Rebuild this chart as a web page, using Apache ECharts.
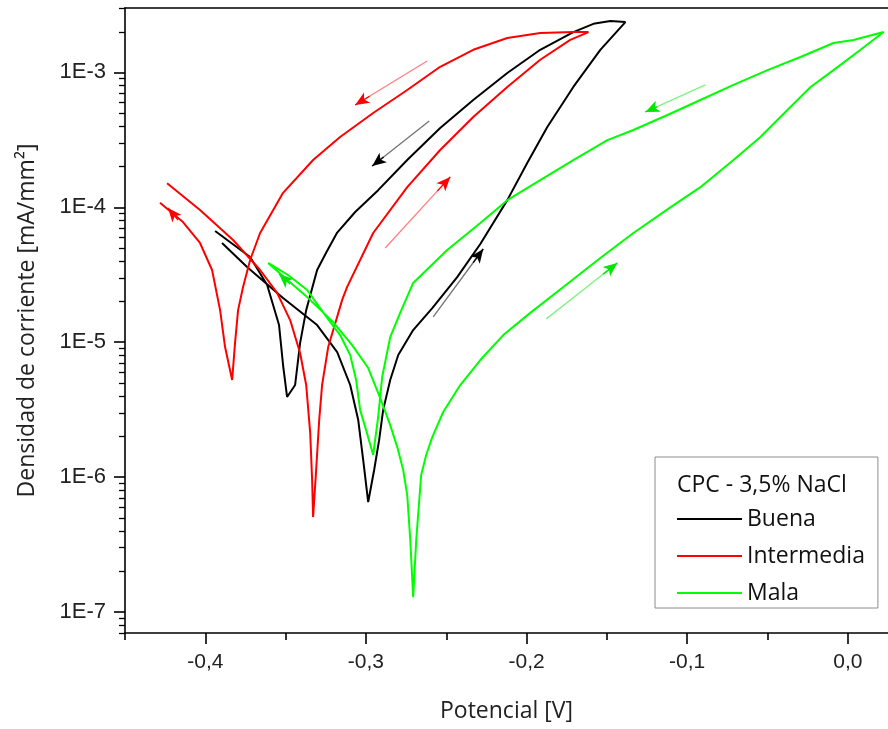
<!DOCTYPE html>
<html><head><meta charset="utf-8">
<script src="https://cdn.jsdelivr.net/npm/echarts@6/dist/echarts.min.js"></script>
<style>html,body{margin:0;padding:0;background:#fff}#c{width:888px;height:729px}</style>
</head><body><div id="c"></div>
<script>
// ---- data: [potential V, current density mA/mm2] ----
const buena = [
[-0.3896,5.44e-5],[-0.374,3.61e-5],[-0.3516,2.13e-5],[-0.3304,1.34e-5],[-0.3179,8.46e-6],
[-0.3098,4.82e-6],[-0.3048,2.65e-6],[-0.3017,1.34e-6],[-0.2986,6.54e-7],[-0.2949,1.13e-6],
[-0.2918,1.88e-6],[-0.2893,3.14e-6],[-0.2849,5.25e-6],[-0.2799,8.04e-6],[-0.2706,1.23e-5],
[-0.2587,1.79e-5],[-0.2432,3.04e-5],[-0.2288,5.35e-5],[-0.212,1.13e-4],[-0.1996,2.13e-4],
[-0.1871,3.94e-4],[-0.1709,7.8e-4],[-0.1541,1.47e-3],[-0.1385,2.36e-3],[-0.1478,2.40e-3],
[-0.1584,2.29e-3],[-0.1709,1.99e-3],[-0.1915,1.47e-3],[-0.212,9.9e-4],[-0.2332,6.24e-4],
[-0.2538,3.87e-4],[-0.2743,2.24e-4],[-0.2924,1.34e-4],[-0.3067,9.23e-5],[-0.3179,6.5e-5],
[-0.3248,4.6e-5],[-0.3304,3.43e-5],[-0.3372,1.73e-5],[-0.341,9.86e-6],[-0.3441,4.82e-6],[-0.3491,3.93e-6],
[-0.3516,6.78e-6],[-0.3541,1.34e-5],[-0.3615,2.66e-5],[-0.3721,4.28e-5],[-0.3939,6.67e-5]
];
const intermedia = [
[-0.4238,1.51e-4],[-0.4033,9.55e-5],[-0.3827,5.72e-5],[-0.3659,3.43e-5],[-0.3553,2.32e-5],
[-0.3472,1.46e-5],[-0.341,8.32e-6],[-0.3372,4.82e-6],[-0.3347,2.12e-6],[-0.3335,9.52e-7],
[-0.3329,5.06e-7],[-0.331,1.13e-6],[-0.3291,2.65e-6],[-0.3273,4.82e-6],[-0.3235,9.21e-6],
[-0.3148,2.06e-5],[-0.3117,2.57e-5],[-0.2955,6.45e-5],[-0.2743,1.41e-4],[-0.2538,2.66e-4],
[-0.2332,4.67e-4],[-0.212,7.8e-4],[-0.1915,1.24e-3],[-0.1728,1.74e-3],[-0.1615,1.99e-3],
[-0.1709,1.99e-3],[-0.1915,1.96e-3],[-0.212,1.80e-3],[-0.2332,1.47e-3],[-0.2538,1.10e-3],
[-0.2743,7.4e-4],[-0.2955,5.0e-4],[-0.3161,3.32e-4],[-0.3329,2.24e-4],[-0.3516,1.28e-4],
[-0.3659,6.45e-5],[-0.3721,4.07e-5],[-0.3765,2.57e-5],[-0.3796,1.73e-5],[-0.3815,9.86e-6],
[-0.3833,5.25e-6],[-0.3877,9.21e-6],[-0.3908,1.73e-5],[-0.3958,3.43e-5],[-0.4033,5.44e-5],
[-0.4139,7.78e-5],[-0.4282,1.08e-4]
];
const mala = [
[-0.3609,3.87e-5],[-0.3503,2.99e-5],[-0.3366,2.16e-5],[-0.3204,1.41e-5],[-0.3086,9.53e-6],
[-0.2986,6.44e-6],[-0.2911,3.86e-6],[-0.2849,2.43e-6],[-0.2805,1.67e-6],[-0.2768,1.13e-6],
[-0.2743,7.37e-7],[-0.2724,3.42e-7],[-0.2706,1.29e-7],[-0.2687,3.42e-7],[-0.2656,1.04e-6],
[-0.2625,1.46e-6],[-0.2587,1.98e-6],[-0.2519,3.04e-6],[-0.2413,4.82e-6],[-0.2288,7.38e-6],
[-0.2145,1.13e-5],[-0.1977,1.65e-5],[-0.1771,2.57e-5],[-0.1541,4.21e-5],[-0.1335,6.45e-5],
[-0.1105,1.0e-4],[-0.0918,1.41e-4],[-0.0712,2.24e-4],[-0.0544,3.32e-4],[-0.0376,5.26e-4],
[-0.0232,7.8e-4],[-0.0089,1.04e-3],[0.0079,1.47e-3],[0.0223,1.99e-3],[0.0035,1.74e-3],
[-0.0089,1.65e-3],[-0.0295,1.30e-3],[-0.05,1.04e-3],[-0.0712,8.07e-4],[-0.0918,6.24e-4],
[-0.1123,4.83e-4],[-0.1335,3.74e-4],[-0.1497,3.15e-4],[-0.1709,2.24e-4],[-0.1915,1.59e-4],
[-0.212,1.13e-4],[-0.2288,7.65e-5],[-0.2494,4.83e-5],[-0.2706,2.75e-5],[-0.2787,1.65e-5],
[-0.2849,1.09e-5],[-0.2899,5.52e-6],[-0.2924,2.79e-6],[-0.2955,1.46e-6],[-0.2999,2.24e-6],
[-0.3036,3.14e-6],[-0.3061,5.25e-6],[-0.3098,8.04e-6],[-0.3161,1.13e-5],[-0.3254,1.59e-5],
[-0.3366,2.44e-5],[-0.3485,3.15e-5],[-0.3609,3.87e-5]
];
// scan-direction arrows: [from, to]
const arrowsBuena = [[[-0.2606,4.36e-4],[-0.2961,2.02e-4]],[[-0.2581,1.54e-5],[-0.227,4.91e-5]]];
const arrowsIntermedia = [[[-0.2619,1.215e-3],[-0.3067,5.73e-4]],[[-0.288,4.99e-5],[-0.2475,1.68e-4]]];
const arrowsMala = [[[-0.0887,8.07e-4],[-0.126,5.09e-4]],[[-0.1877,1.49e-5],[-0.1435,3.87e-5]]];
const headsIntermedia = [[[-0.417,8.05e-5],[-0.4232,9.88e-5]]];
const headsMala = [[[-0.3472,2.70e-5],[-0.3541,3.20e-5]]];

const seriesNames = ['Buena','Intermedia','Mala'];
const xTickValues = [-0.4,-0.3,-0.2,-0.1,0.0];
const xTickLabels = ['-0,4','-0,3','-0,2','-0,1','0,0'];
const xMinorValues = [-0.45,-0.35,-0.25,-0.15,-0.05];
const yTickValues = [1e-7,1e-6,1e-5,1e-4,1e-3];
const yTickLabels = ['1E-7','1E-6','1E-5','1E-4','1E-3'];
const xMin = -0.45, xMax = 0.025, yMin = 7e-8, yMax = 3e-3;

const yMinorValues = [];
for (let e = -8; e <= -3; e++) for (let m = 2; m <= 9; m++) {
  const v = Number((m * Math.pow(10, e)).toPrecision(3));
  if (v >= yMin && v <= yMax * 1.0001) yMinorValues.push(v);
}
// tick decoration axes live in log10 space, aligned with the log data axis
const lg = v => Math.log10(v);
const yMajorExp = yTickValues.map(lg);
const yMinorExp = yMinorValues.map(lg);

function arrowLines(list, shaftColor, headColor, withShaft) {
  const out = [];
  list.forEach(([a, b]) => {
    if (withShaft) {
      out.push([{coord: a, symbol: 'none', lineStyle: {color: shaftColor, width: 1.3, type: 'solid'}},
                {coord: b, symbol: 'none', lineStyle: {color: shaftColor, width: 1.3, type: 'solid'}}]);
    }
    const t = withShaft ? 0.8 : 0;
    const mid = [a[0] + (b[0] - a[0]) * t,
      Math.pow(10, lg(a[1]) + (lg(b[1]) - lg(a[1])) * t)];
    out.push([{coord: mid, symbol: 'none', lineStyle: {color: headColor, width: 1.3, type: 'solid'}},
              {coord: b, symbol: 'arrow', symbolSize: [9, 14], lineStyle: {color: headColor, width: 1.3, type: 'solid'}}]);
  });
  return out;
}
function mk(list, heads, shaft, head) {
  return {silent: true, animation: false, symbol: ['none', 'none'], label: {show: false},
    lineStyle: {type: 'solid'}, emphasis: {disabled: true},
    data: arrowLines(list, shaft, head, true).concat(arrowLines(heads, shaft, head, false))};
}

const colors = ['#000000', '#ff0000', '#00ff00'];
const chart = echarts.init(document.getElementById('c'), null, {renderer: 'canvas'});
const axisFont = 'Liberation Sans';
const textFont = 'Open Sans';
chart.setOption({
  animation: false,
  backgroundColor: '#ffffff',
  title: {text: 'CPC - 3,5% NaCl', left: 677, top: 471, padding: 0,
    textStyle: {fontFamily: textFont, fontSize: 23, fontWeight: 'normal', color: '#111', lineHeight: 28}},
  legend: {
    data: seriesNames, orient: 'vertical', left: 655, top: 457,
    padding: [50, 13, 3, 22], itemGap: 13, itemWidth: 65, itemHeight: 2, icon: 'rect',
    borderColor: '#8c8c8c', borderWidth: 1,
    textStyle: {fontFamily: textFont, fontSize: 23, color: '#111', lineHeight: 24}
  },
  grid: {left: 125, right: 0, top: 8, bottom: 96, containLabel: false},
  xAxis: [{
    type: 'value', min: xMin, max: xMax, position: 'bottom',
    name: 'Potencial [V]', nameLocation: 'middle', nameGap: 67,
    nameTextStyle: {fontFamily: textFont, fontSize: 23, color: '#222'},
    axisLine: {show: true, onZero: false, lineStyle: {color: '#000', width: 1.6}},
    axisTick: {show: true, customValues: xTickValues, length: 11, inside: false, lineStyle: {color: '#000', width: 1.6}},
    axisLabel: {show: true, customValues: xTickValues, margin: 19, fontFamily: axisFont, fontSize: 21, color: '#222',
      formatter: v => xTickLabels[xTickValues.findIndex(t => Math.abs(t - v) < 1e-9)]},
    splitLine: {show: false}
  }, {
    type: 'value', min: xMin, max: xMax, position: 'bottom',
    axisLine: {show: false, onZero: false},
    axisTick: {show: true, customValues: xMinorValues, length: 7, lineStyle: {color: '#000', width: 1.6}},
    axisLabel: {show: false}, splitLine: {show: false}
  }, {
    type: 'value', min: xMin, max: xMax, position: 'top',
    axisLine: {show: true, onZero: false, lineStyle: {color: '#000', width: 1.6}},
    axisTick: {show: false}, axisLabel: {show: false}, splitLine: {show: false}
  }],
  yAxis: [{
    type: 'log', logBase: 10, min: yMin, max: yMax, position: 'left',
    name: 'Densidad de corriente [mA/mm²]', nameLocation: 'middle', nameGap: 86, nameRotate: 90,
    nameTextStyle: {fontFamily: textFont, fontSize: 23, color: '#222'},
    axisLine: {show: true, onZero: false, lineStyle: {color: '#000', width: 1.6}},
    axisTick: {show: false}, axisLabel: {show: false}, splitLine: {show: false}
  }, {
    type: 'value', min: lg(yMin), max: lg(yMax), position: 'left',
    axisLine: {show: false, onZero: false},
    axisTick: {show: true, customValues: yMajorExp, length: 11, lineStyle: {color: '#000', width: 1.6}},
    axisLabel: {show: true, customValues: yMajorExp, margin: 19, fontFamily: axisFont, fontSize: 22, color: '#222',
      formatter: v => yTickLabels[yMajorExp.findIndex(t => Math.abs(t - v) < 1e-6)]},
    splitLine: {show: false}
  }, {
    type: 'value', min: lg(yMin), max: lg(yMax), position: 'left',
    axisLine: {show: false, onZero: false},
    axisTick: {show: true, customValues: yMinorExp, length: 6, lineStyle: {color: '#000', width: 1.3}},
    axisLabel: {show: false}, splitLine: {show: false}
  }],
  series: [
    {name: 'Buena', type: 'line', data: buena, symbol: 'none', color: colors[0],
     lineStyle: {width: 2, color: colors[0]}, xAxisIndex: 0, yAxisIndex: 0,
     markLine: mk(arrowsBuena, [], 'rgba(0,0,0,0.55)', '#000')},
    {name: 'Intermedia', type: 'line', data: intermedia, symbol: 'none', color: colors[1],
     lineStyle: {width: 2, color: colors[1]}, xAxisIndex: 0, yAxisIndex: 0,
     markLine: mk(arrowsIntermedia, headsIntermedia, 'rgba(255,0,0,0.5)', '#ff0000')},
    {name: 'Mala', type: 'line', data: mala, symbol: 'none', color: colors[2],
     lineStyle: {width: 2, color: colors[2]}, xAxisIndex: 0, yAxisIndex: 0,
     markLine: mk(arrowsMala, headsMala, 'rgba(0,230,0,0.5)', '#00e600')}
  ]
});
</script></body></html>
